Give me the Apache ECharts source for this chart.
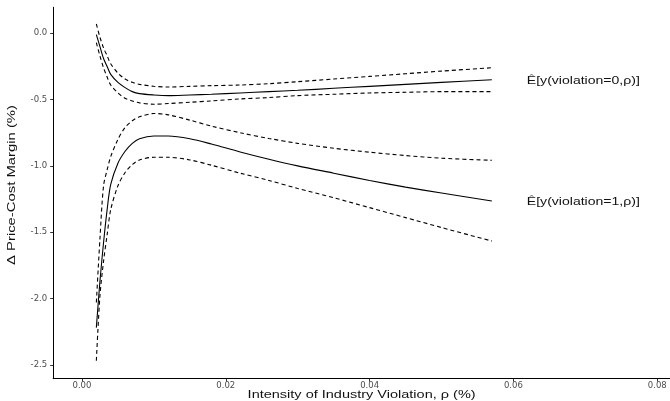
<!DOCTYPE html>
<html>
<head>
<meta charset="utf-8">
<script src="https://cdn.jsdelivr.net/npm/echarts@6/dist/echarts.min.js"></script>
<style>html,body{margin:0;padding:0;background:#fff}#c{width:670px;height:401px}</style>
</head>
<body>
<div id="c"></div>
<script>
// Intensity of industry violation (rho)
const rho = [0.002, 0.0025, 0.003, 0.0035, 0.004, 0.005, 0.006, 0.007, 0.008, 0.010, 0.012, 0.015, 0.018, 0.022, 0.026, 0.030, 0.035, 0.040, 0.045, 0.050, 0.057];
// violation = 0
const v0Fit = [-0.01, -0.10, -0.19, -0.25, -0.31, -0.37, -0.41, -0.44, -0.455, -0.465, -0.47, -0.465, -0.46, -0.45, -0.44, -0.43, -0.415, -0.40, -0.385, -0.37, -0.35];
const v0Hi  = [0.07, -0.03, -0.11, -0.17, -0.23, -0.30, -0.345, -0.37, -0.385, -0.40, -0.405, -0.40, -0.395, -0.39, -0.38, -0.365, -0.345, -0.325, -0.305, -0.285, -0.26];
const v0Lo  = [-0.07, -0.17, -0.26, -0.33, -0.39, -0.45, -0.49, -0.51, -0.525, -0.535, -0.53, -0.52, -0.51, -0.495, -0.485, -0.47, -0.46, -0.45, -0.445, -0.44, -0.44];
// violation = 1
const v1Fit = [-2.22, -1.87, -1.58, -1.33, -1.14, -0.98, -0.89, -0.83, -0.795, -0.775, -0.775, -0.795, -0.835, -0.895, -0.95, -1.0, -1.055, -1.11, -1.16, -1.205, -1.265];
const v1Hi  = [-2.03, -1.55, -1.15, -1.03, -0.93, -0.80, -0.71, -0.66, -0.63, -0.605, -0.615, -0.655, -0.70, -0.75, -0.793, -0.83, -0.867, -0.897, -0.922, -0.942, -0.958];
const v1Lo  = [-2.47, -1.98, -1.72, -1.52, -1.33, -1.15, -1.05, -0.99, -0.955, -0.935, -0.935, -0.955, -0.995, -1.055, -1.11, -1.17, -1.24, -1.315, -1.39, -1.465, -1.567];
// tick labels
const xTicks = [0.00, 0.02, 0.04, 0.06, 0.08];
const yTicks = [-2.5, -2.0, -1.5, -1.0, -0.5, 0.0];
const label0 = 'Ê[y(violation=0,ρ)]';
const label1 = 'Ê[y(violation=1,ρ)]';
const xTitle = 'Intensity of Industry Violation, ρ (%)';
const yTitle = 'Δ Price-Cost Margin (%)';

const pairs = ys => rho.map((x, i) => [x, ys[i]]);
const chart = echarts.init(document.getElementById('c'), null, {renderer: 'canvas'});
function line(name, ys, dashed) {
  return {
    name, type: 'line', data: pairs(ys), showSymbol: false, symbol: 'none',
    smooth: 0.3, clip: true,
    lineStyle: {color: '#000', width: 1.1, type: dashed ? [4, 3] : 'solid'},
    emphasis: {disabled: true}, z: dashed ? 2 : 3
  };
}
const axisTxt = {color: '#4d4d4d', fontSize: 8.5, fontFamily: 'DejaVu Sans, sans-serif'};
chart.setOption({
  animation: false,
  backgroundColor: '#fff',
  grid: {left: 53.2, top: 7.3, width: 632.8, height: 371.4, outerBoundsMode: 'none', containLabel: false},
  xAxis: {
    type: 'value', min: -0.004, max: 0.084,
    axisLine: {show: true, onZero: false, lineStyle: {color: '#000', width: 1}},
    axisTick: {show: true, length: 3, lineStyle: {color: '#333'}, customValues: xTicks},
    axisLabel: Object.assign({margin: 3, customValues: xTicks, formatter: v => v.toFixed(2)}, axisTxt),
    splitLine: {show: false}
  },
  yAxis: {
    type: 'value', min: -2.605, max: 0.196,
    axisLine: {show: true, onZero: false, lineStyle: {color: '#000', width: 1}},
    axisTick: {show: true, length: 3, lineStyle: {color: '#333'}, customValues: yTicks},
    axisLabel: Object.assign({margin: 6, customValues: yTicks, formatter: v => (Math.abs(v) < 1e-9 ? 0 : v).toFixed(1)}, axisTxt),
    splitLine: {show: false}
  },
  series: [
    line('v0 hi', v0Hi, true),
    line('v0 fit', v0Fit, false),
    line('v0 lo', v0Lo, true),
    line('v1 hi', v1Hi, true),
    line('v1 fit', v1Fit, false),
    line('v1 lo', v1Lo, true)
  ]
});

// text elements (titles and curve annotations), horizontally widened like the reference
const cv = document.createElement('canvas').getContext('2d');
function widthOf(text, font) { cv.font = font; return cv.measureText(text).width; }
const fontT = '10.5px "Liberation Sans", Arial, sans-serif';
const grid = chart.getModel().getComponent('grid').coordinateSystem.getRect();
const n = rho.length - 1;
const end0 = chart.convertToPixel({gridIndex: 0}, [rho[n], v0Fit[n]]);
const end1 = chart.convertToPixel({gridIndex: 0}, [rho[n], v1Fit[n]]);
function txt(text, x, y, targetW, opts) {
  return Object.assign({
    type: 'text', x, y, scaleX: targetW / widthOf(text, fontT), silent: true,
    style: {text, font: fontT, fill: '#111', align: 'left', verticalAlign: 'middle'}
  }, opts || {});
}
const xt = txt(xTitle, grid.x + grid.width / 2 - 8, 395, 228);
xt.style.align = 'center';
const yt = txt(yTitle, 12.5, 185, 160, {rotation: Math.PI / 2});
yt.style.align = 'center';
chart.setOption({
  graphic: [
    xt, yt,
    txt(label0, end0[0] + 35, end0[1] + 1, 113),
    txt(label1, end1[0] + 35, end1[1] + 1, 113)
  ]
});
</script>
</body>
</html>
